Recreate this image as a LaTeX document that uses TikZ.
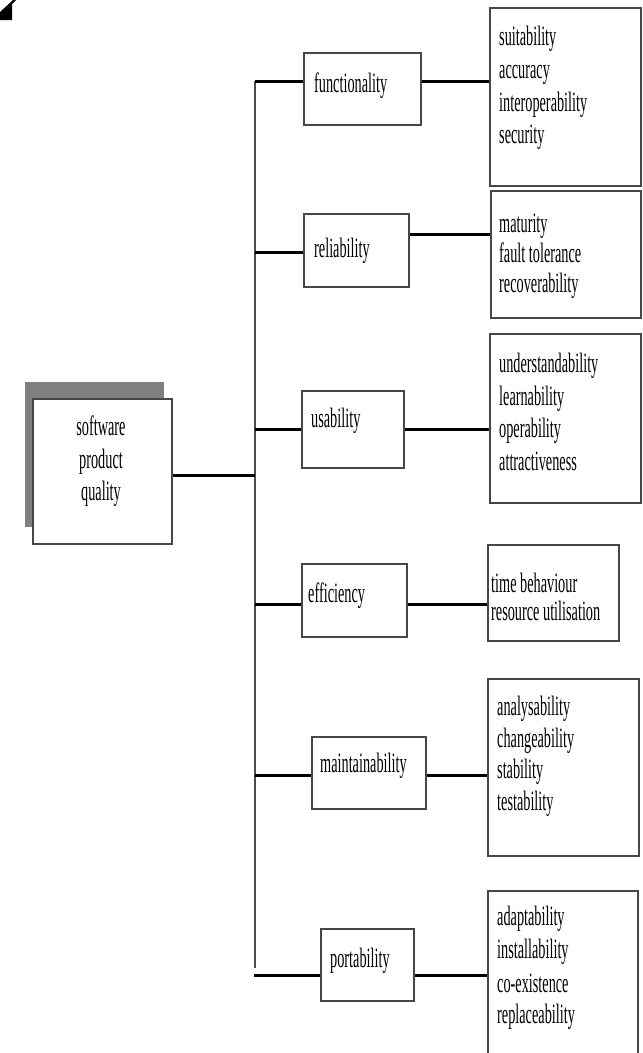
\documentclass[tikz,border=0pt]{standalone}
\usepackage{fontspec}
\setmainfont{Liberation Serif}[FakeStretch=0.51]
\begin{document}
\begin{tikzpicture}[x=1pt,y=-1pt,
  box/.style={draw=black!72, line width=1.8pt, fill=white, inner sep=0pt, anchor=north west},
  conn/.style={draw=black, line width=3pt},
  trunkline/.style={draw=black!70, line width=2.4pt},
  lbl/.style={inner sep=0pt, anchor=base west, font=\fontsize{28}{33}\selectfont},
  clbl/.style={inner sep=0pt, anchor=base, font=\fontsize{28}{33}\selectfont}]

% canvas
\fill[white] (0,0) rectangle (643,1053);
\useasboundingbox (0,0) rectangle (643,1053);
\clip (0,0) rectangle (643,1053);

% corner mark
\fill[black] (0,20) -- (12,20) -- (12,4) -- (16,0) -- (13,0) -- (0,12) -- cycle;

% root box with its drop shadow
\fill[black!50] (25,382) rectangle (164,527);
\node[box, minimum width=139pt, minimum height=145pt] (root) at (32,398) {};
\node[clbl] (rootA) at (101,435) {software};
\node[clbl] (rootB) at (101,468) {product};
\node[clbl] (rootC) at (101,500) {quality};

% characteristic boxes
\node[box, minimum width=117pt, minimum height=72pt] (fun) at (303,52) {};
\node[box, minimum width=105pt, minimum height=73pt] (rel) at (303,213) {};
\node[box, minimum width=102pt, minimum height=77pt] (usa) at (301,390) {};
\node[box, minimum width=105pt, minimum height=73pt] (eff) at (301,563) {};
\node[box, minimum width=114pt, minimum height=72pt] (mai) at (311,736) {};
\node[box, minimum width=93pt,  minimum height=72pt] (por) at (320,928) {};

\node[lbl] (funT) at (314,92)  {functionality};
\node[lbl] (relT) at (314,257) {reliability};
\node[lbl] (usaT) at (311,427) {usability};
\node[lbl] (effT) at (308,602) {efficiency};
\node[lbl] (maiT) at (320,772) {maintainability};
\node[lbl] (porT) at (330,967) {portability};

% sub-characteristic boxes
\node[box, minimum width=151pt, minimum height=178pt] (funL) at (489,7) {};
\node[box, minimum width=150pt, minimum height=127pt] (relL) at (490,190) {};
\node[box, minimum width=151pt, minimum height=169pt] (usaL) at (489,333) {};
\node[box, minimum width=131pt, minimum height=96pt]  (effL) at (487,544) {};
\node[box, minimum width=151pt, minimum height=177pt] (maiL) at (487,678) {};
\node[box, minimum width=150pt, minimum height=200pt] (porL) at (487,890) {};

\node[lbl] (funL1) at (499,45)  {suitability};
\node[lbl] (funL2) at (499,78)  {accuracy};
\node[lbl] (funL3) at (499,111) {interoperability};
\node[lbl] (funL4) at (499,143) {security};

\node[lbl] (relL1) at (499,232) {maturity};
\node[lbl] (relL2) at (499,262) {fault tolerance};
\node[lbl] (relL3) at (499,292) {recoverability};

\node[lbl] (usaL1) at (499,372) {understandability};
\node[lbl] (usaL2) at (499,405) {learnability};
\node[lbl] (usaL3) at (499,437) {operability};
\node[lbl] (usaL4) at (499,470) {attractiveness};

\node[lbl] (effL1) at (491,592) {time behaviour};
\node[lbl] (effL2) at (491,620) {resource utilisation};

\node[lbl] (maiL1) at (497,715) {analysability};
\node[lbl] (maiL2) at (497,747) {changeability};
\node[lbl] (maiL3) at (497,778) {stability};
\node[lbl] (maiL4) at (497,810) {testability};

\node[lbl] (porL1) at (497,925)  {adaptability};
\node[lbl] (porL2) at (497,958)  {installability};
\node[lbl] (porL3) at (497,992)  {co-existence};
\node[lbl] (porL4) at (497,1023) {replaceability};

% branch points on the trunk
\coordinate (tFun) at (255,81);
\coordinate (tRel) at (255,252);
\coordinate (tUsa) at (255,429);
\coordinate (tRoot) at (255,475);
\coordinate (tEff) at (255,604);
\coordinate (tMai) at (255,775);
\coordinate (tEnd) at (255,968);
\coordinate (tPor) at (254,975);
\coordinate (rRel) at (408,234);

% trunk
\draw[trunkline] (tFun) -- (tEnd);

% root to trunk
\draw[conn] (root.east |- tRoot) -- (tRoot);

% trunk to characteristics
\draw[conn] (tFun) -- (fun.west |- tFun);
\draw[conn] (tRel) -- (rel.west |- tRel);
\draw[conn] (tUsa) -- (usa.west |- tUsa);
\draw[conn] (tEff) -- (eff.west |- tEff);
\draw[conn] (tMai) -- (mai.west |- tMai);
\draw[conn] (tPor) -- (por.west |- tPor);

% characteristics to sub-characteristics
\draw[conn] (fun.east |- tFun) -- (funL.west |- tFun);
\draw[conn] (rel.east |- rRel) -- (relL.west |- rRel);
\draw[conn] (usa.east |- tUsa) -- (usaL.west |- tUsa);
\draw[conn] (eff.east |- tEff) -- (effL.west |- tEff);
\draw[conn] (mai.east |- tMai) -- (maiL.west |- tMai);
\draw[conn] (por.east |- tPor) -- (porL.west |- tPor);
\end{tikzpicture}
\end{document}
